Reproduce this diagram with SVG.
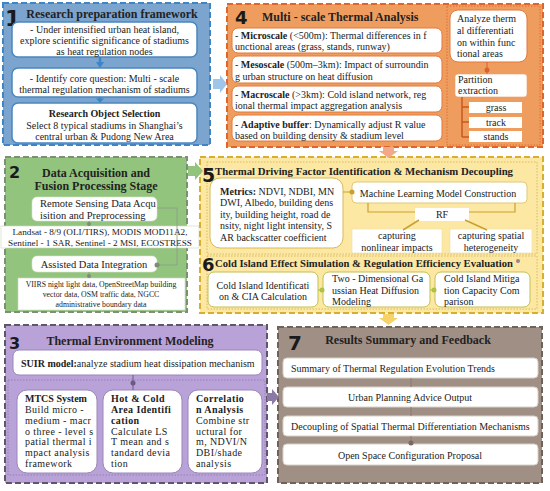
<svg xmlns="http://www.w3.org/2000/svg" width="550" height="491" viewBox="0 0 550 491">
<style>
text{font-family:"Liberation Serif","Times New Roman",serif;fill:#222;}
.t{font-size:10px;}
.s{font-size:9.2px;}
.xs{font-size:7.8px;}
.h{font-size:12px;font-weight:bold;}
.b{font-weight:bold;}
.num{font-family:"DejaVu Sans",sans-serif;font-weight:900;fill:#1a1a1a;}
.m{text-anchor:middle;}
.wb{fill:#fff;}
.panel{stroke-width:2;stroke-dasharray:6,3;}
.dotted{fill:none;stroke-width:0.8;stroke-dasharray:1.5,1.5;}
.ln{fill:none;stroke-width:1;}
</style>
<rect width="550" height="491" fill="#fff"/>

<!-- Panel 1 -->
<g id="node1">
<rect x="3" y="3" width="207" height="142" fill="#7ba4cf" stroke="#3d85c6" class="panel"/>
<text x="5" y="26" class="num" font-size="22">1</text>
<text x="112" y="17.5" class="h m" font-size="11.6">Research preparation framework</text>
<rect x="12" y="22" width="185" height="35" rx="6" class="wb" stroke="#4a86c0" stroke-width="1.5"/>
<text x="104.5" class="t m"><tspan x="104.5" y="32.5">- Under intensified urban heat island,</tspan><tspan x="104.5" y="44">explore scientific significance of stadiums</tspan><tspan x="104.5" y="55">as heat regulation nodes</tspan></text>
<rect x="12" y="68" width="185" height="29" rx="6" class="wb" stroke="#4a86c0" stroke-width="1.5"/>
<text class="t m"><tspan x="104.5" y="82">- Identify core question: Multi - scale</tspan><tspan x="104.5" y="93">thermal regulation mechanism of stadiums</tspan></text>
<rect x="12" y="103" width="185" height="40" rx="6" class="wb" stroke="#4a86c0" stroke-width="1.5"/>
<text x="104.5" y="116.5" class="t m b">Research Object Selection</text>
<text class="t m"><tspan x="104.5" y="128.5">Select 8 typical stadiums in Shanghai’s</tspan><tspan x="104.5" y="139.5">central urban &amp; Pudong New Area</tspan></text>
</g>

<!-- Panel 4 -->
<g id="node4">
<rect x="227" y="4" width="316" height="143" fill="#ef9d5e" stroke="#e0652a" class="panel"/>
<text x="235" y="24" class="num" font-size="18">4</text>
<text x="262" y="20.5" class="h">Multi - scale Thermal Analysis</text>
<rect x="232" y="28" width="210" height="25" rx="6" class="wb" stroke="#e0783a"/>
<text class="t"><tspan x="235" y="38.5">- <tspan class="b">Microscale</tspan> (&lt;500m): Thermal differences in f</tspan><tspan x="235" y="50">unctional areas (grass, stands, runway)</tspan></text>
<rect x="232" y="56" width="210" height="27" rx="6" class="wb" stroke="#e0783a"/>
<text class="t"><tspan x="235" y="67.5">- <tspan class="b">Mesoscale</tspan> (500m–3km): Impact of surroundin</tspan><tspan x="235" y="79.5">g urban structure on heat diffusion</tspan></text>
<rect x="232" y="86" width="210" height="26" rx="6" class="wb" stroke="#e0783a"/>
<text class="t"><tspan x="235" y="97.5">- <tspan class="b">Macroscale</tspan> (&gt;3km): Cold island network, reg</tspan><tspan x="235" y="109">ional thermal impact aggregation analysis</tspan></text>
<rect x="232" y="115" width="210" height="26" rx="6" class="wb" stroke="#e0783a"/>
<text class="t"><tspan x="235" y="127.5">- <tspan class="b">Adaptive buffer</tspan>: Dynamically adjust R value</tspan><tspan x="235" y="138.5">based on building density &amp; stadium level</tspan></text>
<rect x="447" y="6" width="93" height="139" fill="#f0a468" stroke="#d9622b" class="dotted"/>
<rect x="450" y="10" width="77" height="52" rx="8" class="wb" stroke="#e0783a"/>
<text class="t"><tspan x="457" y="21.5">Analyze therm</tspan><tspan x="457" y="33.5">al differentiati</tspan><tspan x="457" y="45.5">on within func</tspan><tspan x="457" y="56.5">tional areas</tspan></text>
<rect x="455" y="74" width="72" height="23" rx="3" class="wb" stroke="#e8a070" stroke-width="0.6"/>
<text class="t"><tspan x="458" y="82.5">Partition</tspan><tspan x="458" y="93.5">extraction</tspan></text>
<rect x="469" y="102" width="53" height="11" class="wb"/>
<text x="496" y="111" class="t m">grass</text>
<rect x="469" y="117" width="53" height="11" class="wb"/>
<text x="496" y="126" class="t m">track</text>
<rect x="469" y="131" width="53" height="11" class="wb"/>
<text x="496" y="140" class="t m">stands</text>
</g>

<!-- Panel 2 -->
<g id="node2">
<rect x="5" y="157" width="182" height="155" fill="#93c47d" stroke="#7d9076" class="panel"/>
<text x="9" y="178" class="num" font-size="16">2</text>
<text class="h m"><tspan x="96" y="176.5">Data Acquisition and</tspan><tspan x="96" y="189.5">Fusion Processing Stage</tspan></text>
<rect x="32" y="197" width="125" height="24" rx="5" class="wb" stroke="#d8e4d0" stroke-width="0.6"/>
<text style="font-size:10.5px"><tspan x="40" y="207">Remote Sensing Data Acqu</tspan><tspan x="40" y="218.5">isition and Preprocessing</tspan></text>
<rect x="1" y="226" width="198" height="22" class="wb" stroke="#c8d8c0" stroke-width="0.6"/>
<text class="s m"><tspan x="100" y="234.5">Landsat - 8/9 (OLI/TIRS), MODIS MOD11A2,</tspan><tspan x="100" y="245.5">Sentinel - 1 SAR, Sentinel - 2 MSI, ECOSTRESS</tspan></text>
<rect x="32" y="256" width="125" height="16" rx="5" class="wb" stroke="#d8e4d0" stroke-width="0.6"/>
<text x="94" y="268" class="m" style="font-size:10.5px">Assisted Data Integration</text>
<rect x="18" y="278" width="167" height="32" class="wb" stroke="#c8d8c0" stroke-width="0.6"/>
<text class="xs m"><tspan x="101" y="287">VIIRS night light data, OpenStreetMap building</tspan><tspan x="101" y="297">vector data, OSM traffic data, NGCC</tspan><tspan x="101" y="306.5">administrative boundary data</tspan></text>
</g>

<!-- Panel 5/6 -->
<g id="node5">
<rect x="200" y="157" width="343" height="156" fill="#fce8a2" stroke="#d8ae2e" class="panel"/>
<rect x="207" y="162" width="330" height="92" stroke="#d0b050" class="dotted"/>
<text x="202" y="182" class="num" font-size="19">5</text>
<text x="215" y="175" class="b" font-size="10.5" textLength="298" lengthAdjust="spacingAndGlyphs">Thermal Driving Factor Identification &amp; Mechanism Decoupling</text>
<rect x="210" y="178" width="133" height="70" rx="10" class="wb" stroke="#d8b95a"/>
<text class="t"><tspan x="220" y="194.5"><tspan class="b">Metrics:</tspan> NDVI, NDBI, MN</tspan><tspan x="220" y="206">DWI, Albedo, building dens</tspan><tspan x="220" y="217.5">ity, building height, road de</tspan><tspan x="220" y="229">nsity, night light intensity, S</tspan><tspan x="220" y="240.5">AR backscatter coefficient</tspan></text>
<rect x="352" y="182" width="175" height="21" rx="4" class="wb" stroke="#e0c878"/>
<text x="438" y="196.5" class="t m">Machine Learning Model Construction</text>
<rect x="415" y="208" width="54" height="13" class="wb"/>
<text x="442" y="218" class="t m">RF</text>
<rect x="352" y="229" width="90" height="24" class="wb" stroke="#eadca8" stroke-width="0.6"/>
<text class="t m"><tspan x="397" y="238.5">capturing</tspan><tspan x="397" y="250.5">nonlinear impacts</tspan></text>
<rect x="450" y="229" width="82" height="24" class="wb" stroke="#eadca8" stroke-width="0.6"/>
<text class="t m"><tspan x="491" y="238.5">capturing spatial</tspan><tspan x="491" y="250.5">heterogeneity</tspan></text>
</g>
<g id="node6">
<rect x="207" y="256" width="330" height="53" stroke="#d0b050" class="dotted"/>
<text x="202" y="271" class="num" font-size="18">6</text>
<text x="215" y="266.5" class="b" font-size="10" textLength="298" lengthAdjust="spacingAndGlyphs">Cold Island Effect Simulation &amp; Regulation Efficiency Evaluation</text>
<circle cx="518" cy="261" r="2" fill="#a08090"/>
<rect x="208" y="272" width="110" height="35" rx="6" class="wb" stroke="#c0c050"/>
<text class="t m"><tspan x="263" y="288.5">Cold Island Identificati</tspan><tspan x="263" y="299.5">on &amp; CIA Calculation</tspan></text>
<rect x="323" y="272" width="107" height="35" rx="6" class="wb" stroke="#c0c050"/>
<text class="t"><tspan x="332" y="281.5">Two - Dimensional Ga</tspan><tspan x="332" y="293.5">ussian Heat Diffusion</tspan><tspan x="332" y="305">Modeling</tspan></text>
<rect x="435" y="272" width="95" height="35" rx="6" class="wb" stroke="#c0c050"/>
<text class="t"><tspan x="444" y="281.5">Cold Island Mitiga</tspan><tspan x="444" y="293.5">tion Capacity Com</tspan><tspan x="444" y="305">parison</tspan></text>
</g>

<!-- Panel 3 -->
<g id="node3">
<rect x="5" y="325" width="262" height="158" fill="#b9a2d8" stroke="#5f5668" class="panel"/>
<text x="9" y="349" class="num" font-size="16">3</text>
<text x="130" y="345" class="h m">Thermal Environment Modeling</text>
<rect x="13" y="350" width="249" height="25" rx="6" class="wb" stroke="#9a86b8"/>
<text x="21" y="366.5" class="t"><tspan class="b">SUIR model:</tspan>analyze stadium heat dissipation mechanism</text>
<rect x="8" y="380" width="257" height="95" stroke="#8a78a8" class="dotted"/>
<rect x="17" y="390" width="80" height="83" rx="10" class="wb" stroke="#9a86b8"/>
<text class="t" letter-spacing="0.4"><tspan x="25" y="401.5" class="b" letter-spacing="0">MTCS System</tspan><tspan x="25" y="412.5">Build micro -</tspan><tspan x="25" y="423.5">medium - macr</tspan><tspan x="25" y="434.5">o three - level s</tspan><tspan x="25" y="445">patial thermal i</tspan><tspan x="25" y="456">mpact analysis</tspan><tspan x="25" y="467">framework</tspan></text>
<rect x="103" y="390" width="79" height="83" rx="10" class="wb" stroke="#9a86b8"/>
<text class="t" letter-spacing="0.4"><tspan x="111" y="401.5" class="b">Hot &amp; Cold</tspan><tspan x="111" y="412.5" class="b">Area Identifi</tspan><tspan x="111" y="423.5" class="b">cation</tspan><tspan x="111" y="434.5">Calculate LS</tspan><tspan x="111" y="445">T mean and s</tspan><tspan x="111" y="456">tandard devia</tspan><tspan x="111" y="467">tion</tspan></text>
<rect x="188" y="390" width="74" height="83" rx="10" class="wb" stroke="#9a86b8"/>
<text class="t" letter-spacing="0.4"><tspan x="196" y="401.5" class="b">Correlatio</tspan><tspan x="196" y="412.5" class="b">n Analysis</tspan><tspan x="196" y="423.5">Combine str</tspan><tspan x="196" y="434.5">uctural for</tspan><tspan x="196" y="445">m, NDVI/N</tspan><tspan x="196" y="456">DBI/shade</tspan><tspan x="196" y="467">analysis</tspan></text>
</g>

<!-- Panel 7 -->
<g id="node7">
<rect x="278" y="327" width="264" height="156" fill="#a08f85" stroke="#6e625a" class="panel"/>
<text x="288" y="350" class="num" font-size="20">7</text>
<text x="408" y="344" class="h m">Results Summary and Feedback</text>
<rect x="283" y="358" width="255" height="20" rx="4" class="wb" stroke="#d8d0c8"/>
<text x="291" y="371.5" class="t">Summary of Thermal Regulation Evolution Trends</text>
<rect x="283" y="387" width="255" height="20" rx="4" class="wb" stroke="#d8d0c8"/>
<text x="410" y="400.5" class="t m">Urban Planning Advice Output</text>
<rect x="283" y="416" width="255" height="20" rx="4" class="wb" stroke="#d8d0c8"/>
<text x="291" y="429.5" class="t">Decoupling of Spatial Thermal Differentiation Mechanisms</text>
<rect x="283" y="444" width="255" height="21" rx="4" class="wb" stroke="#d8d0c8"/>
<text x="410" y="458.5" class="t m">Open Space Configuration Proposal</text>
</g>

<!-- Connectors -->
<g id="connectors">
<path d="M100,57 V63" stroke="#3d85c6" stroke-width="2.5" fill="none"/>
<path d="M96,62 L100,68 L104,62 Z" fill="#3d85c6"/>
<path d="M100,97 V99" stroke="#3d85c6" stroke-width="2.5" fill="none"/>
<path d="M96,98.5 L100,103 L104,98.5 Z" fill="#3d85c6"/>
<path d="M487,62 V74" stroke="#d9622b" class="ln"/>
<circle cx="487" cy="70" r="2.5" fill="#d9622b"/>
<path d="M462,97 V137 M462,107 H469 M462,122 H469 M462,137 H469" stroke="#c65a1e" stroke-width="1.5" fill="none"/>
<path d="M89,221 V226 M89,272 V278 M157,208 H177 V265 H157" stroke="#8a9a88" stroke-width="0.8" fill="none"/>
<circle cx="89" cy="224" r="2" fill="#7e8c78"/>
<circle cx="89" cy="276" r="2" fill="#7e8c78"/>
<circle cx="157" cy="265" r="2.5" fill="#7e8c78"/>
<path d="M343,192 H352" stroke="#c8a030" class="ln"/>
<circle cx="352" cy="192" r="2.5" fill="#c8a030"/>
<path d="M368,203 V212 H415 M469,212 H515 V203" stroke="#c8a030" stroke-width="1.2" fill="none"/>
<path d="M419,220 L403,230 M465,220 L487,230" stroke="#c8a030" stroke-width="1.5" fill="none"/>
<path d="M318,290 H323 M430,290 H435" stroke="#b0c040" class="ln"/>
<circle cx="322" cy="290" r="2.5" fill="#b0c040"/>
<circle cx="434" cy="290" r="2.5" fill="#b0c040"/>
<path d="M133,375 V390" stroke="#6a5a80" class="ln"/>
<circle cx="133" cy="383" r="2.5" fill="#6a5a80"/>
<path d="M411,378 V387 M411,407 V416 M411,436 V444" stroke="#8a7a70" class="ln"/>
<circle cx="411" cy="443" r="2.5" fill="#7a6a60"/>
<polygon points="213,79 220,79 220,75 227,84 220,93 220,89 213,89" fill="#9fc5e8"/>
<polygon points="188,166 195,166 195,162 203,171 195,180 195,176 188,176" fill="#93c47d"/>
<polygon points="383,147 394,147 394,151 398,151 388.5,158 379,151 383,151" fill="#f2a98a"/>
<polygon points="383,314 394,314 394,318 398,318 388.5,325 379,318 383,318" fill="#f6d36a"/>
<polygon points="267,393 272,393 272,389 279,397 272,405 272,401 267,401" fill="#8c7aa6"/>
</g>
</svg>
